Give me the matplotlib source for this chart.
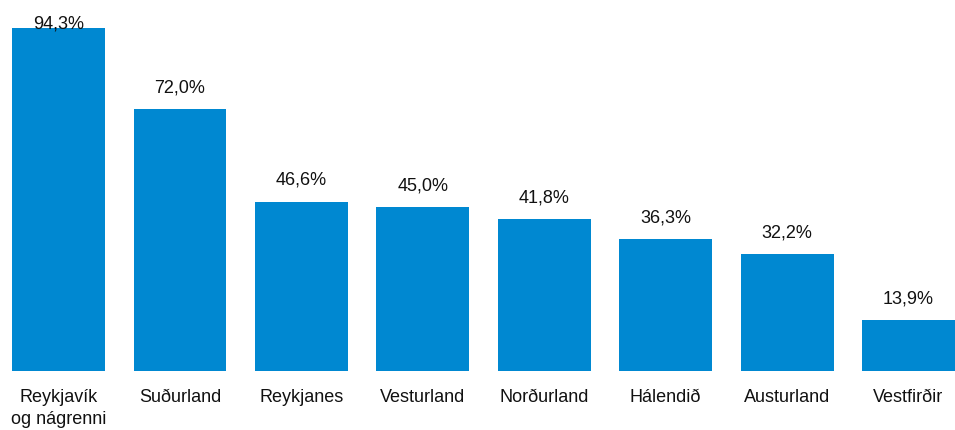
import matplotlib
matplotlib.use("Agg")
import matplotlib.pyplot as plt

categories = ["Reykjavík\nog nágrenni", "Suðurland", "Reykjanes", "Vesturland",
              "Norðurland", "Hálendið", "Austurland", "Vestfirðir"]
values = [94.3, 72.0, 46.6, 45.0, 41.8, 36.3, 32.2, 13.9]

plt.rcParams['font.family'] = ['Liberation Sans', 'DejaVu Sans']

fig = plt.figure(figsize=(9.55, 4.30), dpi=100)
ax = fig.add_axes([0, 59/430, 1, 371/430])
x = list(range(len(values)))
ax.bar(x, values, width=0.765, color="#0088D1")
ax.set_xlim(-0.482, 7.383)
ax.set_ylim(0, 102)
for xi, v in zip(x, values):
    ty = min(v + 3.5, 93.0)
    ax.text(xi, ty, f"{v:.1f}".replace(".", ",") + "%", ha="center", va="bottom",
            fontsize=13, color="#111111")
ax.set_xticks(x)
ax.set_xticklabels(categories, fontsize=13, color="#111111", linespacing=1.4)
ax.tick_params(axis="x", length=0, pad=13)
ax.set_yticks([])
for s in ax.spines.values():
    s.set_visible(False)
fig.savefig("out.png", dpi=100)
